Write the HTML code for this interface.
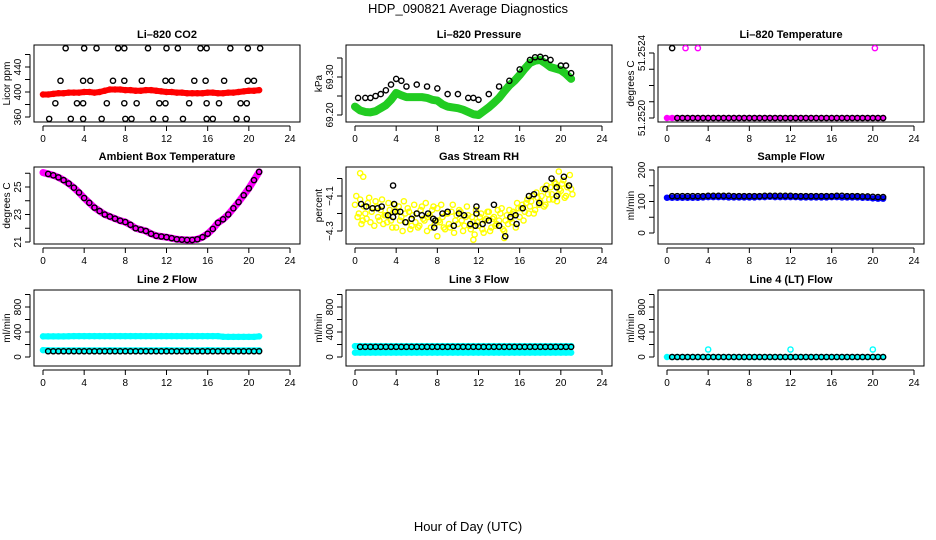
<!DOCTYPE html>
<html><head><meta charset="utf-8"><style>
html,body{margin:0;padding:0;background:#fff;}
svg{display:block;font-family:"Liberation Sans",sans-serif;}
</style></head><body>
<svg id="chart" width="936" height="540" viewBox="0 0 936 540">
<text x="468" y="13" text-anchor="middle" font-size="13">HDP_090821  Average Diagnostics</text>
<text x="468" y="531" text-anchor="middle" font-size="13">Hour of Day (UTC)</text>
</svg>
<script>
// ---- data ----
const xTicks = [0,4,8,12,16,20,24];
const co2Red = [396,396,397,398,398,399,399,399,400,400,399,400,402,404,404,404,403,403,402,402,403,403,402,401,400,400,399,399,398,398,398,398,399,399,398,398,399,399,400,401,402,402,403];
const co2BlackT = [2.2,4.0,5.2,7.3,7.9,10.2,12.0,13.1,15.3,15.9,18.2,19.9,21.1, 1.7,3.9,4.6,6.8,7.9,9.6,11.9,12.5,14.7,15.8,17.6,19.9,20.5, 1.2,3.3,3.9,6.2,7.9,9.1,11.3,11.9,14.2,15.9,17.1,19.2,19.8, 0.6,2.7,3.9,5.7,8.0,8.6,10.7,11.9,13.6,15.9,16.5,18.8,19.8];
const co2BlackV = [470,470,470,470,470,470,470,470,470,470,470,470,470, 418,418,418,418,418,418,418,418,418,418,418,418,418, 382,382,382,382,382,382,382,382,382,382,382,382,382, 357,357,357,357,357,357,357,357,357,357,357,357,357];
const pressGreen = [69.222,69.212,69.208,69.207,69.21,69.218,69.226,69.24,69.258,69.252,69.247,69.247,69.247,69.247,69.245,69.24,69.238,69.228,69.222,69.22,69.218,69.214,69.208,69.202,69.2,69.21,69.22,69.232,69.245,69.262,69.278,69.29,69.305,69.322,69.337,69.343,69.345,69.336,69.326,69.322,69.318,69.308,69.295];
const pressBlackT = [0.3,1,1.5,2,2.5,3,3.5,4,4.5,5,6,7,8,9,10,11,11.5,12,13,14,15,16,17,17.5,18,18.5,19,20,20.5,21];
const pressBlackV = [69.245,69.245,69.245,69.25,69.255,69.265,69.28,69.295,69.29,69.275,69.28,69.275,69.27,69.255,69.255,69.245,69.245,69.24,69.255,69.275,69.29,69.32,69.345,69.352,69.353,69.35,69.345,69.33,69.33,69.31];
const tempMag = [51.2520,51.2520,51.2520,51.2520,51.2520,51.2520,51.2520,51.2520,51.2520,51.2520,51.2520,51.2520,51.2520,51.2520,51.2520,51.2520,51.2520,51.2520,51.2520,51.2520,51.2520,51.2520,51.2520,51.2520,51.2520,51.2520,51.2520,51.2520,51.2520,51.2520,51.2520,51.2520,51.2520,51.2520,51.2520,51.2520,51.2520,51.2520,51.2520,51.2520,51.2520,51.2520,51.2520];
const tempMagOutT = [1.8,3.0,20.2];
const tempMagOutV = [51.25243,51.25243,51.25243];
const tempBlack = [51.25243,51.2520,51.2520,51.2520,51.2520,51.2520,51.2520,51.2520,51.2520,51.2520,51.2520,51.2520,51.2520,51.2520,51.2520,51.2520,51.2520,51.2520,51.2520,51.2520,51.2520,51.2520,51.2520,51.2520,51.2520,51.2520,51.2520,51.2520,51.2520,51.2520,51.2520,51.2520,51.2520,51.2520,51.2520,51.2520,51.2520,51.2520,51.2520,51.2520,51.2520,51.2520];
const ambMag = [26.05,25.95,25.85,25.7,25.5,25.25,24.95,24.6,24.2,23.85,23.5,23.25,23.0,22.85,22.7,22.55,22.45,22.25,22.0,21.9,21.8,21.6,21.45,21.4,21.35,21.28,21.2,21.17,21.15,21.15,21.2,21.35,21.6,21.95,22.4,22.65,23.0,23.45,23.9,24.4,24.9,25.5,26.1];
const ambBlack = [25.95,25.85,25.7,25.5,25.25,24.95,24.6,24.2,23.85,23.5,23.25,23.0,22.85,22.7,22.55,22.45,22.25,22.0,21.9,21.8,21.6,21.45,21.4,21.35,21.28,21.2,21.17,21.15,21.15,21.2,21.35,21.6,21.95,22.4,22.65,23.0,23.45,23.9,24.4,24.9,25.5,26.1];
const rhYellowA = [-4.15,-4.22,-4.12,-4.24,-4.20,-4.14,-4.25,-4.17,-4.13,-4.22,-4.18,-4.26,-4.21,-4.14,-4.24,-4.19,-4.28,-4.16,-4.22,-4.13,-4.25,-4.19,-4.27,-4.15,-4.20,-4.27,-4.16,-4.24,-4.30,-4.21,-4.18,-4.26,-4.17,-4.25,-4.22,-4.29,-4.20,-4.28,-4.15,-4.24,-4.26,-4.19,-4.30,-4.22,-4.21,-4.29,-4.25,-4.18,-4.27,-4.20,-4.31,-4.23,-4.19,-4.28,-4.22,-4.26,-4.24,-4.17,-4.30,-4.21,-4.18,-4.25,-4.20,-4.14,-4.22,-4.15,-4.19,-4.12,-4.16,-4.10,-4.18,-4.11,-4.13,-4.06,-4.15,-4.09,-4.05,-4.12,-4.03,-4.09,-4.07,-4.01,-4.10,-4.04,-4.06];
const rhYellowB = [-4.10,-4.20,-4.26,-4.16,-4.23,-4.11,-4.19,-4.27,-4.16,-4.24,-4.12,-4.21,-4.25,-4.18,-4.28,-4.15,-4.19,-4.24,-4.30,-4.20,-4.17,-4.29,-4.21,-4.25,-4.28,-4.18,-4.23,-4.14,-4.22,-4.28,-4.16,-4.24,-4.24,-4.15,-4.28,-4.20,-4.26,-4.19,-4.31,-4.21,-4.18,-4.24,-4.27,-4.16,-4.27,-4.22,-4.32,-4.25,-4.22,-4.29,-4.24,-4.19,-4.30,-4.23,-4.27,-4.18,-4.20,-4.29,-4.24,-4.26,-4.23,-4.19,-4.28,-4.17,-4.17,-4.24,-4.14,-4.20,-4.13,-4.20,-4.08,-4.15,-4.10,-4.16,-4.04,-4.12,-4.09,-4.02,-4.13,-4.06,-4.03,-4.11,-4.05,-3.98,-4.09];
const rhOutT = [0.5,19.8,14.5,8.0,11.5,0.8];
const rhOutV = [-3.97,-3.96,-4.34,-4.33,-4.35,-3.99];
const rhBlackT = [0.6,1.1,1.7,2.2,2.6,3.2,3.7,3.8,3.7,3.9,4.4,4.9,5.5,6.0,6.5,7.1,7.6,7.8,7.7,8.5,9.0,9.6,10.1,10.6,11.2,11.7,11.8,11.8,12.4,13.0,13.5,14.0,14.6,15.1,15.6,15.7,16.3,16.9,17.4,17.9,18.5,19.1,19.6,19.6,20.3,20.8];
const rhBlackV = [-4.146,-4.16,-4.17,-4.17,-4.16,-4.21,-4.22,-4.146,-4.04,-4.19,-4.19,-4.25,-4.23,-4.20,-4.21,-4.20,-4.23,-4.24,-4.28,-4.20,-4.19,-4.27,-4.20,-4.21,-4.26,-4.27,-4.20,-4.16,-4.26,-4.24,-4.15,-4.27,-4.33,-4.22,-4.21,-4.26,-4.17,-4.10,-4.09,-4.14,-4.06,-4.00,-4.05,-4.10,-3.99,-4.04];
const sampleBlue = [112,112,112,112,112,112,112,113,114,114,114,114,113,113,113,113,113,113,114,114,115,114,114,114,114,114,113,113,113,113,113,113,114,114,113,113,113,113,112,112,110,109,109];
const sampleBlack = [117,117,117,117,117,117,117,118,118,118,118,118,117,117,117,117,117,117,118,118,118,118,118,118,117,117,117,117,117,117,117,117,118,118,117,117,117,116,116,115,114,114];
const line2CyanHi = [330,330,330,330,330,332,334,334,334,334,334,334,334,334,334,334,334,334,334,334,334,334,334,334,334,334,334,334,334,334,334,334,334,334,334,324,322,322,322,322,322,322,330];
const line2CyanLo = [110,108,106,106,106,106,106,106,106,106,106,106,106,108,106,106,106,106,106,106,106,106,106,106,110,106,106,106,106,106,106,106,110,106,106,106,106,106,106,106,106,106,106];
const line2Black = [92,92,92,92,92,92,92,92,92,92,92,92,92,92,92,92,92,92,92,92,92,92,92,92,92,92,92,92,92,92,92,92,92,92,92,92,92,92,92,92,92,92];
const line3CyanHi = [175,175,175,175,175,175,175,175,175,175,175,175,175,175,175,175,175,175,175,175,175,175,175,175,175,175,175,175,175,175,175,175,175,175,175,175,175,175,175,175,175,175,175];
const line3CyanLo = [70,70,70,70,70,70,70,70,70,70,70,70,70,70,70,70,70,70,70,70,70,70,70,70,70,70,70,70,70,70,70,70,70,70,70,70,70,70,70,70,70,70,70];
const line3Black = [162,162,162,162,162,162,162,162,162,162,162,162,162,162,162,162,162,162,162,162,162,162,162,162,162,162,162,162,162,162,162,162,162,162,162,162,162,162,162,162,162,162];
const line4Cyan = [0,0,0,0,0,0,0,0,0,0,0,0,0,0,0,0,0,0,0,0,0,0,0,0,0,0,0,0,0,0,0,0,0,0,0,0,0,0,0,0,0,0,0];
const line4OutT = [4.0,12.0,20.0];
const line4OutV = [120,120,120];
const line4Black = [0,0,0,0,0,0,0,0,0,0,0,0,0,0,0,0,0,0,0,0,0,0,0,0,0,0,0,0,0,0,0,0,0,0,0,0,0,0,0,0,0,0];

const tDense = []; for (let i=0;i<43;i++) tDense.push(i*0.5);
const tBlack = []; for (let i=1;i<=42;i++) tBlack.push(i*0.5);
const tQuarterA = []; for (let i=0;i<85;i++) tQuarterA.push(i*0.25);
const tQuarterB = []; for (let i=0;i<85;i++) tQuarterB.push(i*0.25+0.125);

// ---- drawing ----
const NS = "http://www.w3.org/2000/svg";
const svg = document.getElementById('chart');
function el(tag, attrs, parent){ const e=document.createElementNS(NS,tag); for(const k in attrs) e.setAttribute(k,attrs[k]); (parent||svg).appendChild(e); return e; }

const cols = [34,346,658];
const rows = [[45,122],[167,244],[290,366]];

function makePanel(ci, ri, name, title, ylab, yRef, yTicks, yLabels){
  const L=cols[ci], R=L+266, T=rows[ri][0], B=rows[ri][1];
  const g = el('g',{});
  
  
  const xs = h => L+9+h*(247/24);
  const k = (yRef[3]-yRef[1])/(yRef[2]-yRef[0]);
  const ys = v => yRef[1]+(v-yRef[0])*k;
  const box = el('rect',{x:L,y:T,width:R-L,height:B-T,fill:'none',stroke:'#000','stroke-width':1},g);
  
  
  const tt = el('text',{x:(L+R)/2,y:T-7,'text-anchor':'middle','font-size':11,'font-weight':'bold'},g);
  tt.textContent = title;
  
  
  const xa = el('g',{},g);
  
  
  el('line',{x1:xs(0),x2:xs(24),y1:B+4,y2:B+4,stroke:'#000'},xa);
  xTicks.forEach(v=>{
    el('line',{x1:xs(v),x2:xs(v),y1:B+4,y2:B+9,stroke:'#000'},xa);
    const t=el('text',{x:xs(v),y:B+20,'text-anchor':'middle','font-size':10},xa);
    t.textContent=v;
  });
  const ya = el('g',{},g);
  
  
  el('line',{x1:L-4,x2:L-4,y1:ys(yTicks[0]),y2:ys(yTicks[yTicks.length-1]),stroke:'#000'},ya);
  yTicks.forEach(v=>{ el('line',{x1:L-9,x2:L-4,y1:ys(v),y2:ys(v),stroke:'#000'},ya); });
  yLabels.forEach(lb=>{
    const val = Array.isArray(lb)?lb[0]:lb, txt = Array.isArray(lb)?lb[1]:String(lb);
    const x=L-13, y=ys(val);
    const t=el('text',{x:x,y:y,'text-anchor':'middle','font-size':10,transform:`rotate(-90 ${x} ${y})`},ya);
    t.textContent=txt;
  });
  const yl = el('text',{x:L-24,y:(T+B)/2,'text-anchor':'middle','font-size':10,transform:`rotate(-90 ${L-24} ${(T+B)/2})`},g);
  yl.textContent=ylab;
  
  
  return {g,xs,ys};
}
function band(p, ts, vs, color, w, sname){
  const s = el('g',{},p.g);
  
  
  el('polyline',{points:ts.map((t,i)=>p.xs(t)+','+p.ys(vs[i])).join(' '),fill:'none',stroke:color,'stroke-width':w,'stroke-linecap':'round','stroke-linejoin':'round'},s);
  ts.forEach((t,i)=>el('circle',{cx:p.xs(t),cy:p.ys(vs[i]),r:2.5,fill:'none',stroke:color,'stroke-width':1.5},s));
}
function pts(p, ts, vs, color, sname, r){
  const s = el('g',{},p.g);
  
  
  ts.forEach((t,i)=>el('circle',{cx:p.xs(t),cy:p.ys(vs[i]),r:r||2.6,fill:'none',stroke:color,'stroke-width':1.4},s));
}

let p = makePanel(0,0,'co2','Li\u2013820 CO2','Licor ppm',[360,117,440,67],[360,380,400,420,440,460],[360,400,440]);
band(p,tDense,co2Red,'#ff0000',6,'co2-red-series');
pts(p,co2BlackT,co2BlackV,'#000','co2-black-points');
p = makePanel(1,0,'pressure','Li\u2013820 Pressure','kPa',[69.20,115,69.30,77],[69.20,69.25,69.30,69.35],[[69.20,'69.20'],[69.30,'69.30']]);
band(p,tDense,pressGreen,'#22cc22',8,'pressure-green-series');
pts(p,pressBlackT,pressBlackV,'#000','pressure-black-points');
p = makePanel(2,0,'li820-temp','Li\u2013820 Temperature','degrees C',[51.2520,118,51.2524,53],[51.2520,51.2521,51.2522,51.2523,51.2524],[[51.2520,'51.2520'],[51.2524,'51.2524']]);
band(p,tDense,tempMag,'#ff00ff',5,'li820-temp-magenta-series');
pts(p,tempMagOutT,tempMagOutV,'#ff00ff','li820-temp-magenta-outliers');
pts(p,tBlack,tempBlack,'#000','li820-temp-black-points');
p = makePanel(0,1,'ambient','Ambient Box Temperature','degrees C',[21,242,25,187],[21,22,23,24,25,26],[21,23,25]);
band(p,tDense,ambMag,'#ff00ff',7,'ambient-magenta-series');
pts(p,tBlack,ambBlack,'#000','ambient-black-points');
p = makePanel(1,1,'rh','Gas Stream RH','percent',[-4.1,196,-4.3,231],[-4.3,-4.2,-4.1,-4.0],[[-4.3,'\u22124.3'],[-4.1,'\u22124.1']]);
pts(p,tQuarterA,rhYellowA,'#ffff00','rh-yellow-points-a',2.6);
pts(p,tQuarterB,rhYellowB,'#ffff00','rh-yellow-points-b',2.6);
pts(p,rhOutT,rhOutV,'#ffff00','rh-yellow-outliers',2.6);
pts(p,rhBlackT,rhBlackV,'#000','rh-black-points');
p = makePanel(2,1,'sample-flow','Sample Flow','ml/min',[0,233,200,170],[0,50,100,150,200],[0,100,200]);
band(p,tDense,sampleBlue,'#0000ff',5,'sample-flow-blue-series');
pts(p,tBlack,sampleBlack,'#000','sample-flow-black-points');
p = makePanel(0,2,'line2-flow','Line 2 Flow','ml/min',[0,357,800,307],[0,200,400,600,800,1000],[0,400,800]);
band(p,tDense,line2CyanHi,'#00ffff',6,'line2-cyan-upper-series');
band(p,tDense,line2CyanLo,'#00ffff',6,'line2-cyan-lower-series');
pts(p,tBlack,line2Black,'#000','line2-black-points');
p = makePanel(1,2,'line3-flow','Line 3 Flow','ml/min',[0,357,800,307],[0,200,400,600,800,1000],[0,400,800]);
band(p,tDense,line3CyanHi,'#00ffff',6,'line3-cyan-upper-series');
band(p,tDense,line3CyanLo,'#00ffff',6,'line3-cyan-lower-series');
pts(p,tBlack,line3Black,'#000','line3-black-points');
p = makePanel(2,2,'line4-flow','Line 4 (LT) Flow','ml/min',[0,357,800,307],[0,200,400,600,800,1000],[0,400,800]);
band(p,tDense,line4Cyan,'#00ffff',5,'line4-cyan-series');
pts(p,line4OutT,line4OutV,'#00ffff','line4-cyan-outliers');
pts(p,tBlack,line4Black,'#000','line4-black-points');
</script>
</body></html>
